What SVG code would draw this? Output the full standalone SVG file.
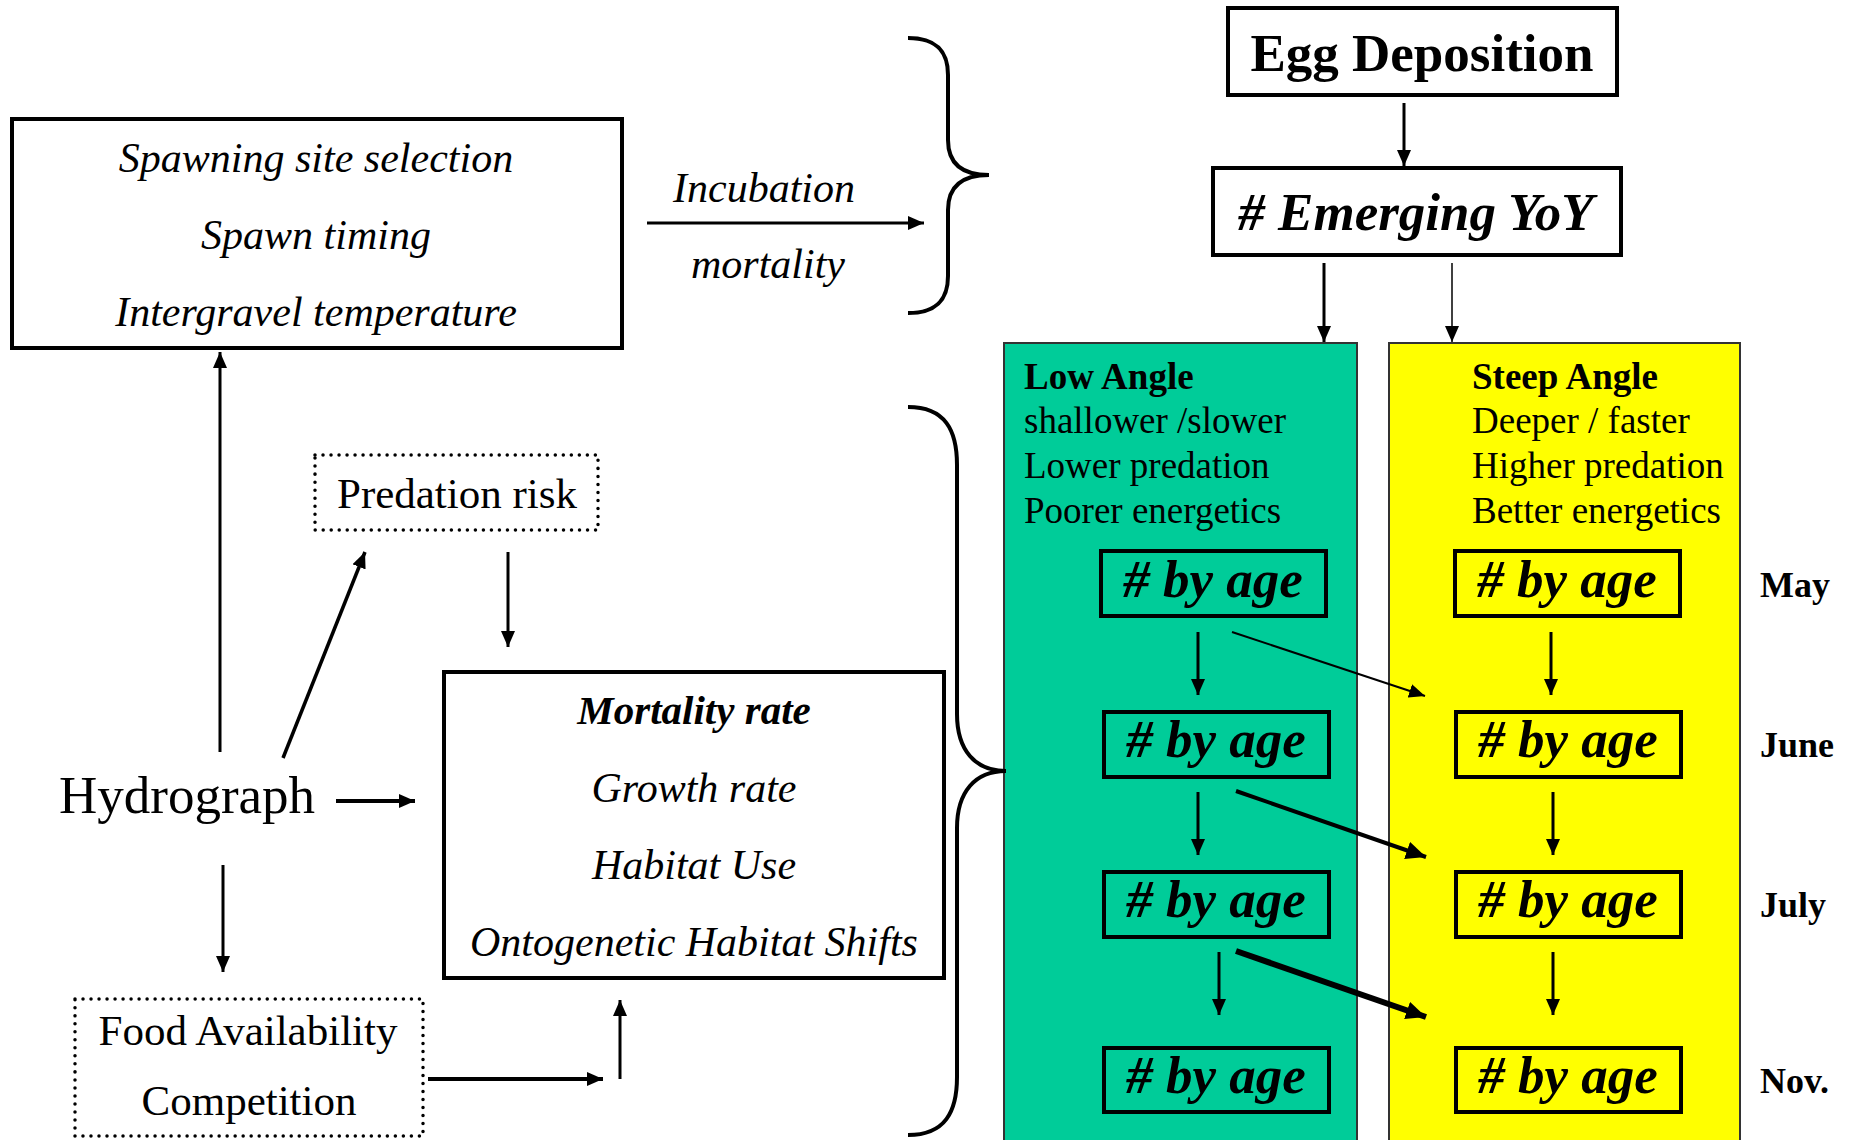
<svg xmlns="http://www.w3.org/2000/svg" width="1852" height="1140" viewBox="0 0 1852 1140">
<defs>
<style>
.t{font-family:"Liberation Serif","Times New Roman",serif;fill:#000}
.i{font-style:italic}
.b{font-weight:bold}
.c{text-anchor:middle}
.box{fill:#fff;stroke:#000;stroke-width:4}
.dot{fill:#fff;stroke:#000;stroke-width:3.5;stroke-dasharray:0.01 8;stroke-linecap:round}
.age{stroke:#000;stroke-width:4}
.ln{stroke:#000;fill:none}
</style>
<marker id="ah" viewBox="0 0 16 14" refX="16" refY="7" markerWidth="16" markerHeight="14" orient="auto" markerUnits="userSpaceOnUse"><path d="M0,0 L16,7 L0,14 z" fill="#000"/></marker>
<marker id="ahL" viewBox="0 0 20 18" refX="20" refY="9" markerWidth="20" markerHeight="18" orient="auto" markerUnits="userSpaceOnUse"><path d="M0,0 L20,9 L0,18 z" fill="#000"/></marker>
</defs>
<rect width="1852" height="1140" fill="#fff"/>

<g id="panel-low">
<rect x="1004" y="343" width="353" height="800" fill="#00CC99" stroke="#333" stroke-width="2"/>
<text class="t b" x="1024" y="389" font-size="37">Low Angle</text>
<text class="t" x="1024" y="433" font-size="37">shallower /slower</text>
<text class="t" x="1024" y="478" font-size="37">Lower predation</text>
<text class="t" x="1024" y="523" font-size="37">Poorer energetics</text>
</g>
<g id="panel-steep">
<rect x="1389" y="343" width="351" height="800" fill="#FFFF00" stroke="#333" stroke-width="2"/>
<text class="t b" x="1472" y="389" font-size="37">Steep Angle</text>
<text class="t" x="1472" y="433" font-size="37">Deeper / faster</text>
<text class="t" x="1472" y="478" font-size="37">Higher predation</text>
<text class="t" x="1472" y="523" font-size="37">Better energetics</text>
</g>

<g id="spawning">
<rect class="box" x="12" y="119" width="610" height="229"/>
<text class="t i c" x="316" y="172" font-size="42">Spawning site selection</text>
<text class="t i c" x="316" y="249" font-size="42">Spawn timing</text>
<text class="t i c" x="316" y="326" font-size="42">Intergravel temperature</text>
</g>
<g id="incubation">
<text class="t i c" x="764" y="202" font-size="42">Incubation</text>
<text class="t i c" x="768" y="278" font-size="42">mortality</text>
</g>
<g id="egg">
<rect class="box" x="1228" y="8" width="389" height="87"/>
<text class="t b c" x="1422" y="71" font-size="53">Egg Deposition</text>
</g>
<g id="emerging">
<rect class="box" x="1213" y="168" width="408" height="87"/>
<text class="t b i c" x="1416" y="230" font-size="53"># Emerging YoY</text>
</g>
<g id="predation">
<rect class="dot" x="315" y="455" width="283" height="75"/>
<text class="t c" x="457" y="508" font-size="43">Predation risk</text>
</g>
<g id="hydrograph">
<text class="t" x="59" y="813" font-size="53">Hydrograph</text>
</g>
<g id="mortality">
<rect class="box" x="444" y="672" width="500" height="306"/>
<text class="t b i c" x="694" y="724" font-size="41">Mortality rate</text>
<text class="t i c" x="694" y="802" font-size="42">Growth rate</text>
<text class="t i c" x="694" y="879" font-size="42">Habitat Use</text>
<text class="t i c" x="694" y="956" font-size="42">Ontogenetic Habitat Shifts</text>
</g>
<g id="food">
<rect class="dot" x="75" y="999" width="348" height="137"/>
<text class="t c" x="248" y="1045" font-size="43">Food Availability</text>
<text class="t c" x="249" y="1115" font-size="43">Competition</text>
</g>

<g id="low-may"><rect class="age" fill="#00CC99" x="1101" y="551" width="225" height="65"/><text class="t b i c" x="1213" y="597" font-size="53"># by age</text></g>
<g id="low-june"><rect class="age" fill="#00CC99" x="1104" y="712" width="225" height="65"/><text class="t b i c" x="1216" y="757" font-size="53"># by age</text></g>
<g id="low-july"><rect class="age" fill="#00CC99" x="1104" y="872" width="225" height="65"/><text class="t b i c" x="1216" y="917" font-size="53"># by age</text></g>
<g id="low-nov"><rect class="age" fill="#00CC99" x="1104" y="1048" width="225" height="64"/><text class="t b i c" x="1216" y="1093" font-size="53"># by age</text></g>
<g id="steep-may"><rect class="age" fill="#FFFF00" x="1455" y="551" width="225" height="65"/><text class="t b i c" x="1567" y="597" font-size="53"># by age</text></g>
<g id="steep-june"><rect class="age" fill="#FFFF00" x="1456" y="712" width="225" height="65"/><text class="t b i c" x="1568" y="757" font-size="53"># by age</text></g>
<g id="steep-july"><rect class="age" fill="#FFFF00" x="1456" y="872" width="225" height="65"/><text class="t b i c" x="1568" y="917" font-size="53"># by age</text></g>
<g id="steep-nov"><rect class="age" fill="#FFFF00" x="1456" y="1048" width="225" height="64"/><text class="t b i c" x="1568" y="1093" font-size="53"># by age</text></g>

<g id="months">
<text class="t b" x="1760" y="597" font-size="36">May</text>
<text class="t b" x="1760" y="757" font-size="36">June</text>
<text class="t b" x="1760" y="917" font-size="36">July</text>
<text class="t b" x="1760" y="1093" font-size="36">Nov.</text>
</g>

<g id="connectors">
<path class="ln" stroke-width="4" d="M908,38 C940,38 948,55 948,75 L948,140 C948,162 960,175 989,175 C960,175 948,188 948,210 L948,276 C948,296 940,313 908,313"/>
<path class="ln" stroke-width="4" d="M908,407 C945,407 957,430 957,465 L957,714 C957,750 975,771 1006,771 C975,771 957,792 957,828 L957,1077 C957,1112 945,1135 908,1135"/>
<line class="ln" stroke-width="3" x1="647" y1="223" x2="924" y2="223" marker-end="url(#ah)"/>
<line class="ln" stroke-width="3" x1="1404" y1="103" x2="1404" y2="166" marker-end="url(#ah)"/>
<line class="ln" stroke-width="3" x1="1324" y1="263" x2="1324" y2="342" marker-end="url(#ah)"/>
<line class="ln" stroke-width="1.5" x1="1452" y1="263" x2="1452" y2="342" marker-end="url(#ah)"/>
<line class="ln" stroke-width="3" x1="220" y1="752" x2="220" y2="352" marker-end="url(#ah)"/>
<line class="ln" stroke-width="3.5" x1="283" y1="758" x2="365" y2="552" marker-end="url(#ah)"/>
<line class="ln" stroke-width="3" x1="508" y1="552" x2="508" y2="647" marker-end="url(#ah)"/>
<line class="ln" stroke-width="4" x1="336" y1="801" x2="415" y2="801" marker-end="url(#ah)"/>
<line class="ln" stroke-width="3" x1="223" y1="865" x2="223" y2="972" marker-end="url(#ah)"/>
<line class="ln" stroke-width="4" x1="428" y1="1079" x2="603" y2="1079" marker-end="url(#ah)"/>
<line class="ln" stroke-width="3" x1="620" y1="1079" x2="620" y2="1000" marker-end="url(#ah)"/>
<line class="ln" stroke-width="3" x1="1198" y1="632" x2="1198" y2="695" marker-end="url(#ah)"/>
<line class="ln" stroke-width="3" x1="1198" y1="792" x2="1198" y2="855" marker-end="url(#ah)"/>
<line class="ln" stroke-width="3" x1="1219" y1="952" x2="1219" y2="1015" marker-end="url(#ah)"/>
<line class="ln" stroke-width="3" x1="1551" y1="632" x2="1551" y2="695" marker-end="url(#ah)"/>
<line class="ln" stroke-width="3" x1="1553" y1="792" x2="1553" y2="855" marker-end="url(#ah)"/>
<line class="ln" stroke-width="3" x1="1553" y1="952" x2="1553" y2="1015" marker-end="url(#ah)"/>
<line class="ln" stroke-width="2" x1="1232" y1="632" x2="1425" y2="696" marker-end="url(#ah)"/>
<line class="ln" stroke-width="4" x1="1236" y1="791" x2="1426" y2="857" marker-end="url(#ahL)"/>
<line class="ln" stroke-width="6" x1="1236" y1="951" x2="1426" y2="1017" marker-end="url(#ahL)"/>
</g>
</svg>
